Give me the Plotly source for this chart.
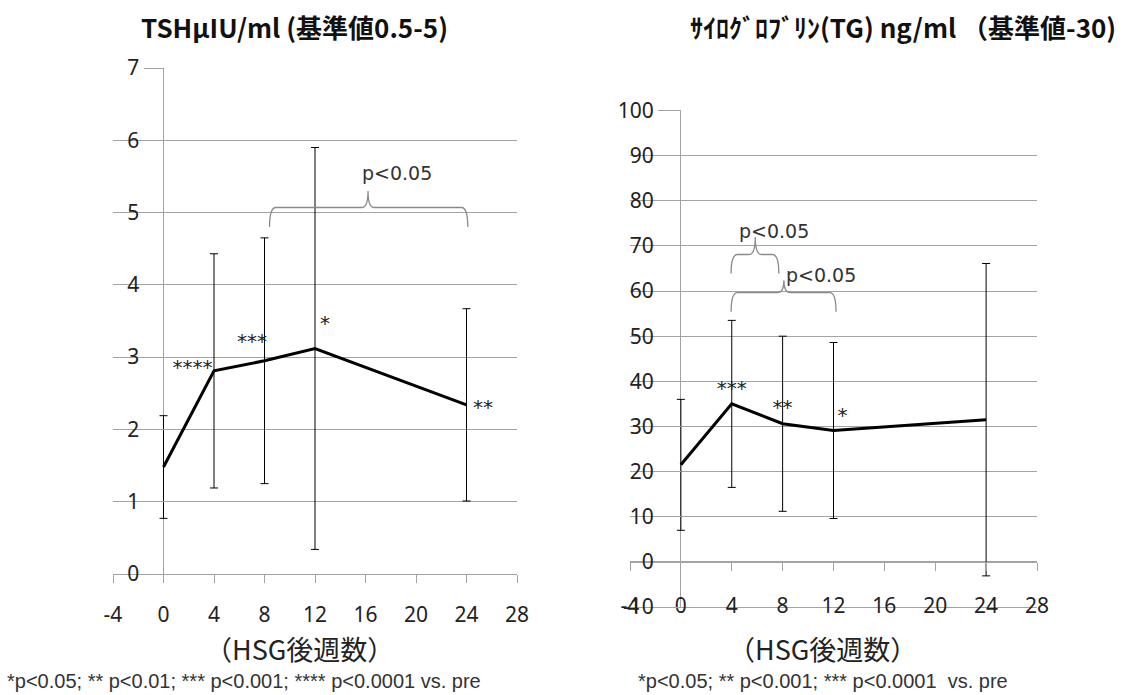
import plotly.graph_objects as go

# ---------------- data ----------------
weeks = [0, 4, 8, 12, 24]
tsh_mean = [1.48, 2.81, 2.95, 3.12, 2.34]
tsh_sd = [0.71, 1.62, 1.70, 2.78, 1.33]
tg_mean = [21.5, 35.0, 30.6, 29.1, 31.5]
tg_sd = [14.5, 18.5, 19.4, 19.5, 34.6]

tsh_stars = ["****", "***", "*", "**"]
tsh_star_x = [2.3, 7.0, 12.8, 25.3]
tsh_star_y = [2.83, 3.20, 3.45, 2.28]
tg_stars = ["***", "**", "*"]
tg_star_x = [4.0, 8.0, 12.7]
tg_star_y = [38.0, 33.9, 32.1]

# brackets: (x_start, x_end, x_center, y_end, y_flat, y_peak, label_x, label_y)
tsh_brackets = [(8.4, 24.1, 16.2, 4.80, 5.07, 5.30, 18.5, 5.55)]
tg_brackets = [(3.95, 7.7, 5.85, 63.9, 68.1, 72.0, 7.3, 73.3),
               (3.95, 12.2, 8.1, 55.4, 59.65, 62.4, 11.05, 63.5)]

x_range = [-4, 28]
x_ticks = [-4, 0, 4, 8, 12, 16, 20, 24, 28]
x_ticklabels = ["-4", "0", "4", "8", "12", "16", "20", "24", "28"]
tsh_range = [0, 7]
tsh_ticks = [0, 1, 2, 3, 4, 5, 6, 7]
tg_range = [-10, 100]
tg_ticks = [-10, 0, 10, 20, 30, 40, 50, 60, 70, 80, 90, 100]
tg_ticklabels = ["-10", "0", "10", "20", "30", "40", "50", "60", "70", "80", "90", "100"]

tsh_title = "TSHμIU/ml (基準値0.5-5)"
tg_title = "ｻｲﾛｸﾞﾛﾌﾞﾘﾝ(TG) ng/ml （基準値-30)"
x_title = "（HSG後週数）"
tsh_note = "*p<0.05; ** p<0.01; *** p<0.001; **** p<0.0001 vs. pre"
tg_note = "*p<0.05; ** p<0.001; *** p<0.0001  vs. pre"

# ---------------- layout geometry ----------------
W, H = 1129, 695
GRID = "#a3a3a3"
TXT = "#222222"
L_dom_x = [113 / W, 517 / W]
L_dom_y = [(H - 574) / H, (H - 68) / H]
R_dom_x = [630 / W, 1037 / W]
R_dom_y = [(H - 607) / H, (H - 110.5) / H]


def frac(v, rng, dom):
    return dom[0] + (v - rng[0]) / (rng[1] - rng[0]) * (dom[1] - dom[0])


tickfont = dict(family="Noto Sans, Open Sans, sans-serif", size=21, color=TXT)
starfont = dict(family="DejaVu Sans", size=20, color="#222222")
pfont = dict(family="DejaVu Sans", size=19, color="#333333")

fig = go.Figure()
fig.add_trace(go.Scatter(
    x=weeks, y=tsh_mean, mode="lines", line=dict(color="black", width=3),
    error_y=dict(type="data", array=tsh_sd, color="black", thickness=1, width=4),
    xaxis="x", yaxis="y", showlegend=False, hoverinfo="skip"))
fig.add_trace(go.Scatter(
    x=tsh_star_x, y=tsh_star_y, mode="text", text=tsh_stars, textfont=starfont,
    xaxis="x", yaxis="y", showlegend=False, hoverinfo="skip"))
fig.add_trace(go.Scatter(
    x=weeks, y=tg_mean, mode="lines", line=dict(color="black", width=3),
    error_y=dict(type="data", array=tg_sd, color="black", thickness=1, width=4),
    xaxis="x2", yaxis="y2", showlegend=False, hoverinfo="skip"))
fig.add_trace(go.Scatter(
    x=tg_star_x, y=tg_star_y, mode="text", text=tg_stars, textfont=starfont,
    xaxis="x3", yaxis="y2", showlegend=False, hoverinfo="skip"))


def brace_path(x0, x1, xc, ye, yf, yp, dx):
    return (f"M {x0},{ye} Q {x0},{yf} {x0+dx},{yf} L {xc-dx},{yf} "
            f"Q {xc},{yf} {xc},{yp} Q {xc},{yf} {xc+dx},{yf} "
            f"L {x1-dx},{yf} Q {x1},{yf} {x1},{ye}")


shapes = []
annotations = []
for (x0, x1, xc, ye, yf, yp, lx, ly) in tsh_brackets:
    shapes.append(dict(type="path", xref="x", yref="y",
                       path=brace_path(x0, x1, xc, ye, yf, yp, 0.5),
                       line=dict(color="#8a8a8a", width=1.3)))
    annotations.append(dict(x=lx, y=ly, xref="x", yref="y", text="p<0.05",
                            showarrow=False, font=pfont))
for (x0, x1, xc, ye, yf, yp, lx, ly) in tg_brackets:
    shapes.append(dict(type="path", xref="x2", yref="y2",
                       path=brace_path(x0, x1, xc, ye, yf, yp, 0.5),
                       line=dict(color="#8a8a8a", width=1.3)))
    annotations.append(dict(x=lx, y=ly, xref="x2", yref="y2", text="p<0.05",
                            showarrow=False, font=pfont))

titlefont = dict(family="Noto Sans CJK JP", size=26, color="#111111")
xtitlefont = dict(family="Noto Sans CJK JP", size=27, color=TXT)
notefont = dict(family="Liberation Sans", size=20, color="#333333")
annotations += [
    dict(x=294 / W, y=(H - 26) / H, xref="paper", yref="paper", text=f"<b>{tsh_title}</b>",
         showarrow=False, font=titlefont, xanchor="center", yanchor="middle"),
    dict(x=903 / W, y=(H - 26) / H, xref="paper", yref="paper", text=f"<b>{tg_title}</b>",
         showarrow=False, font=titlefont, xanchor="center", yanchor="middle"),
    dict(x=299 / W, y=(H - 648) / H, xref="paper", yref="paper", text=x_title,
         showarrow=False, font=xtitlefont, xanchor="center", yanchor="middle"),
    dict(x=822 / W, y=(H - 648) / H, xref="paper", yref="paper", text=x_title,
         showarrow=False, font=xtitlefont, xanchor="center", yanchor="middle"),
    dict(x=5 / W, y=(H - 681) / H, xref="paper", yref="paper", text=tsh_note,
         showarrow=False, font=notefont, xanchor="left", yanchor="middle"),
    dict(x=636 / W, y=(H - 681) / H, xref="paper", yref="paper", text=tg_note,
         showarrow=False, font=notefont, xanchor="left", yanchor="middle"),
]

common_x = dict(range=x_range, tickmode="array", tickvals=x_ticks, ticktext=x_ticklabels,
                showgrid=False, automargin=False, tickfont=tickfont, fixedrange=True)
common_y = dict(showgrid=True, gridcolor=GRID, gridwidth=1, zeroline=False, showline=False,
                automargin=False, tickfont=tickfont, ticks="outside", tickcolor=GRID,
                anchor="free", fixedrange=True)

fig.update_layout(
    template="none",
    width=W, height=H,
    margin=dict(l=0, r=0, t=0, b=0),
    paper_bgcolor="white", plot_bgcolor="white",
    showlegend=False,
    xaxis=dict(domain=L_dom_x, anchor="y", zeroline=True, zerolinecolor=GRID, zerolinewidth=1,
               showline=True, linecolor=GRID, linewidth=1, ticks="outside", ticklen=8,
               tickcolor=GRID, ticklabelstandoff=14, **common_x),
    yaxis=dict(domain=L_dom_y, range=tsh_range, tickmode="array", tickvals=tsh_ticks,
               position=frac(0, x_range, L_dom_x), ticklen=20, **common_y),
    xaxis2=dict(domain=R_dom_x, anchor="y2", zeroline=True, zerolinecolor=GRID, zerolinewidth=1,
                showline=True, linecolor=GRID, linewidth=1, ticks="",
                ticklabelstandoff=-20, **common_x),
    xaxis3=dict(domain=R_dom_x, overlaying="x2", anchor="free",
                position=frac(0, tg_range, R_dom_y), zeroline=False,
                showline=True, linecolor=GRID, linewidth=1, ticks="outside", ticklen=8,
                tickcolor=GRID, showticklabels=False,
                **{k: v for k, v in common_x.items() if k not in ("ticktext",)}),
    yaxis2=dict(domain=R_dom_y, range=tg_range, tickmode="array", tickvals=tg_ticks,
                ticktext=tg_ticklabels,
                position=frac(0, x_range, R_dom_x), ticklen=23, **common_y),
    shapes=shapes,
    annotations=annotations,
)

fig.write_html("out.html", config={"displayModeBar": False, "staticPlot": True})

# remove the browser's default page margin so the figure fills the window exactly
with open("out.html", encoding="utf-8") as f:
    html = f.read()
html = html.replace("<head>", "<head><style>html,body{margin:0;padding:0;overflow:hidden;}</style>", 1)
with open("out.html", "w", encoding="utf-8") as f:
    f.write(html)
